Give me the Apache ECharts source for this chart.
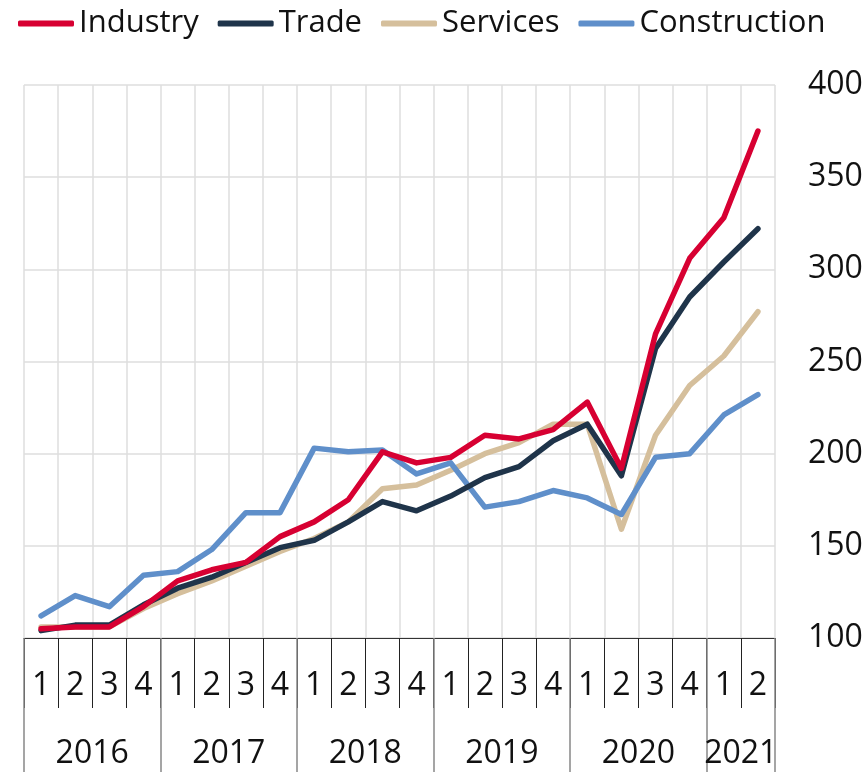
<!DOCTYPE html>
<html>
<head>
<meta charset="utf-8">
<script src="https://cdn.jsdelivr.net/npm/echarts@6/dist/echarts.min.js"></script>
<style>
  html, body { margin: 0; padding: 0; background: #fff; }
  #main { width: 866px; height: 772px; }
</style>
</head>
<body>
<div id="main"></div>
<script>
// quarters 2016Q1 .. 2021Q2
var quarters = ["1","2","3","4","1","2","3","4","1","2","3","4","1","2","3","4","1","2","3","4","1","2"];
var years = ["2016","2016","2016","2016","2017","2017","2017","2017","2018","2018","2018","2018",
             "2019","2019","2019","2019","2020","2020","2020","2020","2021","2021"];

var industry     = [105, 106, 106, 117, 131, 137, 141, 155, 163, 175, 201, 195, 198, 210, 208, 213, 228, 192, 265, 306, 328, 375];
var trade        = [104, 107, 107, 118, 127, 133, 141, 149, 153, 163, 174, 169, 177, 187, 193, 207, 216, 188, 257, 285, 304, 322];
var services     = [106, 106, 106, 116, 124, 131, 139, 147, 154, 163, 181, 183, 191, 200, 206, 216, 216, 159, 210, 237, 253, 277];
var construction = [112, 123, 117, 134, 136, 148, 168, 168, 203, 201, 202, 189, 195, 171, 174, 180, 176, 167, 198, 200, 221, 232];

var yTicks = [100, 150, 200, 250, 300, 350, 400];

var myChart = echarts.init(document.getElementById("main"));
var font = "'Open Sans', 'Noto Sans', sans-serif";

function mkLine(name, data, color) {
  return {
    name: name,
    type: "line",
    data: data,
    symbol: "none",
    lineStyle: { color: color, width: 5.5, cap: "round", join: "round" },
    itemStyle: { color: color },
    animation: false
  };
}

var option = {
  animation: false,
  textStyle: { fontFamily: font },
  legend: {
    left: 13,
    top: 3,
    itemWidth: 56,
    itemHeight: 6,
    itemGap: 19,
    icon: "roundRect",
    textStyle: { fontFamily: font, fontSize: 31, color: "#111" },
    data: ["Industry", "Trade", "Services", "Construction"]
  },
  grid: { left: 24, right: 91, top: 85, bottom: 134 },
  xAxis: [
    {
      type: "category",
      data: quarters,
      boundaryGap: true,
      position: "bottom",
      axisLine: { show: true, lineStyle: { color: "#333", width: 1 } },
      axisTick: { show: true, length: 70, lineStyle: { color: "#222", width: 1 } },
      axisLabel: { interval: 0, margin: 32, fontSize: 32, color: "#111", fontFamily: font },
      splitLine: { show: true, lineStyle: { color: "#dedede", width: 1.5 } }
    },
    {
      type: "category",
      data: years,
      boundaryGap: true,
      position: "bottom",
      axisLine: { show: false },
      axisTick: {
        show: true,
        length: 138,
        interval: function (i) { return i % 4 === 0; },
        lineStyle: { color: "#888", width: 1.5 }
      },
      axisLabel: {
        margin: 100,
        fontSize: 32,
        color: "#111",
        fontFamily: font,
        padding: [0, 0, 0, 34],
        interval: function (i) { return i % 4 === 1 || i === 20; }
      },
      splitLine: { show: false }
    }
  ],
  yAxis: {
    type: "value",
    position: "right",
    min: yTicks[0],
    max: yTicks[yTicks.length - 1],
    interval: 50,
    axisLine: { show: false },
    axisTick: { show: false },
    axisLabel: { margin: 33, fontSize: 32, color: "#111", fontFamily: font },
    splitLine: { show: true, lineStyle: { color: "#dedede", width: 1.5 } }
  },
  series: [
    mkLine("Services", services, "#d5bf9c"),
    mkLine("Construction", construction, "#5f8fca"),
    mkLine("Trade", trade, "#1f344a"),
    mkLine("Industry", industry, "#d70032")
  ]
};

option && myChart.setOption(option);
</script>
</body>
</html>
